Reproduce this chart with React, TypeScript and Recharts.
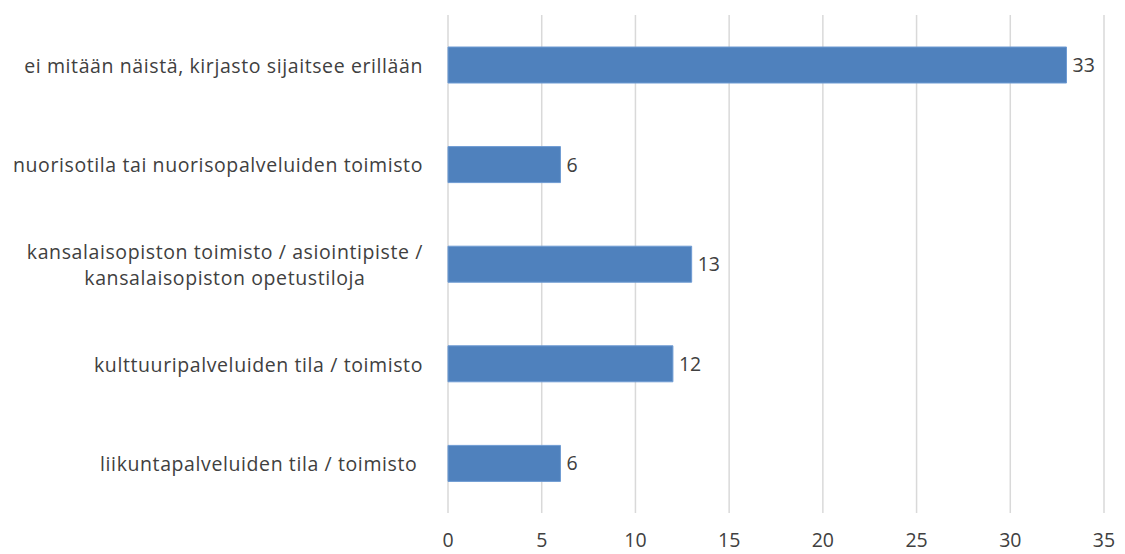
import React from "react";
import { Bar, BarChart, CartesianGrid, LabelList, XAxis, YAxis } from "recharts";

const categories = [
  "ei mitään näistä, kirjasto sijaitsee erillään",
  "nuorisotila tai nuorisopalveluiden toimisto",
  "kansalaisopiston toimisto / asiointipiste / kansalaisopiston opetustiloja",
  "kulttuuripalveluiden tila / toimisto",
  "liikuntapalveluiden tila / toimisto ",
];
const counts = [33, 6, 13, 12, 6];
const xTicks = [0, 5, 10, 15, 20, 25, 30, 35];

const FONT = "'Open Sans', 'Noto Sans', sans-serif";
const FONT_SIZE = 19.5;
const SPACING = 0.6;
const TEXT = "#404040";
const MAX_LABEL = 420;

let ctx: CanvasRenderingContext2D | null = null;
const measure = (s: string) => {
  if (!ctx) ctx = document.createElement("canvas").getContext("2d");
  if (!ctx) return s.length * 9;
  ctx.font = `${FONT_SIZE}px 'Open Sans'`;
  return ctx.measureText(s).width + SPACING * s.length;
};

// break long labels into lines, Excel style (lines centred under each other)
const wrap = (s: string) => {
  const words = s.split(" ");
  const lines: string[] = [];
  let cur = "";
  words.forEach((w, i) => {
    const next = i === 0 ? w : cur + " " + w;
    if (measure(next.trimEnd()) > MAX_LABEL && cur) {
      lines.push(cur);
      cur = w;
    } else cur = next;
  });
  lines.push(cur);
  return lines;
};

const CategoryTick = (props: any) => {
  const { x, y, payload } = props;
  const lines = wrap(String(payload.value));
  const widest = Math.max(...lines.map(measure));
  const cx = x - 17 - widest / 2;
  const lh = 26;
  const startY = y - ((lines.length - 1) * lh) / 2;
  return (
    <text
      x={cx}
      y={startY}
      textAnchor="middle"
      dominantBaseline="central"
      fill={TEXT}
      fontFamily={FONT}
      fontSize={FONT_SIZE}
      letterSpacing={SPACING}
      style={{ whiteSpace: "pre" }}
    >
      {lines.map((l, i) => (
        <tspan key={i} x={cx} y={startY + i * lh}>
          {l}
        </tspan>
      ))}
    </text>
  );
};

export default function App() {
  const data = categories.map((c, i) => ({ label: c, value: counts[i] }));

  return (
    <div style={{ position: "absolute", left: 0, top: 0, background: "#fff" }}>
      <BarChart
        width={1125}
        height={554}
        data={data}
        layout="vertical"
        margin={{ top: 15, right: 21, left: 0, bottom: 0 }}
      >
        <CartesianGrid horizontal={false} stroke="#D9D9D9" strokeWidth={1.5} />
        <XAxis
          type="number"
          domain={[0, 35]}
          ticks={xTicks}
          axisLine={false}
          tickLine={false}
          height={41}
          tick={{ fill: TEXT, fontFamily: FONT, fontSize: FONT_SIZE }}
          tickMargin={14}
        />
        <YAxis
          type="category"
          dataKey="label"
          width={448}
          axisLine={false}
          tickLine={false}
          tick={<CategoryTick />}
          interval={0}
        />
        <Bar
          dataKey="value"
          fill="#4F81BD"
          stroke="#6E9BD3"
          strokeWidth={1}
          barSize={36}
          isAnimationActive={false}
        >
          <LabelList
            dataKey="value"
            position="right"
            offset={6}
            fill={TEXT}
            fontFamily={FONT}
            fontSize={FONT_SIZE}
          />
        </Bar>
      </BarChart>
    </div>
  );
}
